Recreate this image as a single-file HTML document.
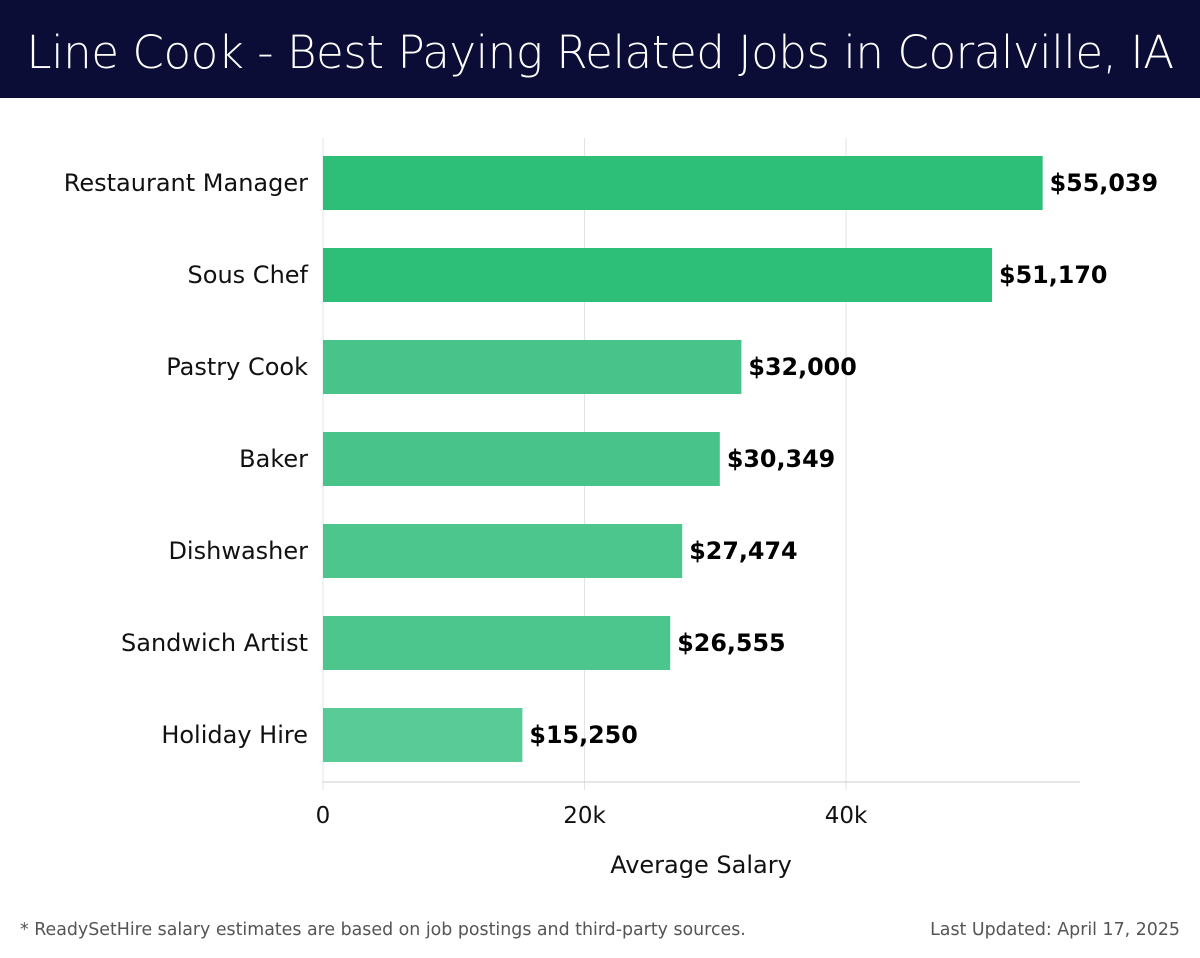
<!DOCTYPE html>
<html><head><meta charset="utf-8">
<style>
body{margin:0;width:1200px;height:958px;background:#fff;font-family:"DejaVu Sans","Liberation Sans",sans-serif;overflow:hidden;position:relative}
#hdr{position:absolute;left:0;top:0;width:1200px;height:98px;background:#0c0d36;color:#fff;font-size:45.2px;text-align:center;line-height:106px;font-family:"DejaVu Sans","Liberation Sans",sans-serif;font-weight:300;letter-spacing:-0.5px}
.foot{position:absolute;top:920px;font-size:17.4px;color:#555;font-family:"DejaVu Sans","Liberation Sans",sans-serif}
</style></head><body>
<div id="hdr">Line Cook - Best Paying Related Jobs in Coralville, IA</div>
<svg id="chart" width="1200" height="958" style="position:absolute;left:0;top:0;font-family:'DejaVu Sans','Liberation Sans',sans-serif"></svg>
<div class="foot" style="left:20px">* ReadySetHire salary estimates are based on job postings and third-party sources.</div>
<div class="foot" style="right:20px">Last Updated: April 17, 2025</div>
<script>
const categories=["Restaurant Manager","Sous Chef","Pastry Cook","Baker","Dishwasher","Sandwich Artist","Holiday Hire"];
const values=[55039,51170,32000,30349,27474,26555,15250];
const colors=["#2dbe78","#2dbe78","#48c48a","#48c48a","#4cc68c","#4cc68c","#58cb96"];
const ticks=[0,20000,40000];
const tickLabels=["0","20k","40k"];
const NS="http://www.w3.org/2000/svg";
const svg=document.getElementById("chart");
const x0=323,pxPer=(846-323)/40000;
const xs=v=>x0+v*pxPer;
const ys=i=>183+i*92;
function mk(t,a){const e=document.createElementNS(NS,t);for(const k in a)e.setAttribute(k,a[k]);svg.appendChild(e);return e;}
ticks.forEach((t,i)=>{
 const g=mk("line",{x1:xs(t),x2:xs(t),y1:138,y2:790,stroke:"#e3e3e3","stroke-width":1});
 
 
 const l=mk("text",{x:xs(t),y:823,"font-size":23,"text-anchor":"middle",fill:"#111"});
 l.textContent=tickLabels[i];
 
 
});
const ax=mk("line",{x1:323,x2:1080,y1:782,y2:782,stroke:"#ccc"});


categories.forEach((c,i)=>{
 const y=ys(i);
 const r=mk("rect",{x:x0,y:y-27,width:xs(values[i])-x0,height:54,fill:colors[i]});
 
 
 const l=mk("text",{x:308,y:y+8,"font-size":24,"text-anchor":"end",fill:"#111"});
 l.textContent=c;
 
 
 const v=mk("text",{x:xs(values[i])+7,y:y+8,"font-size":23.8,"font-weight":"bold",fill:"#000"});
 v.textContent="$"+values[i].toLocaleString("en-US");
 
 
});
const t=mk("text",{x:701,y:873,"font-size":24,"text-anchor":"middle",fill:"#111"});
t.textContent="Average Salary";


</script>
</body></html>
